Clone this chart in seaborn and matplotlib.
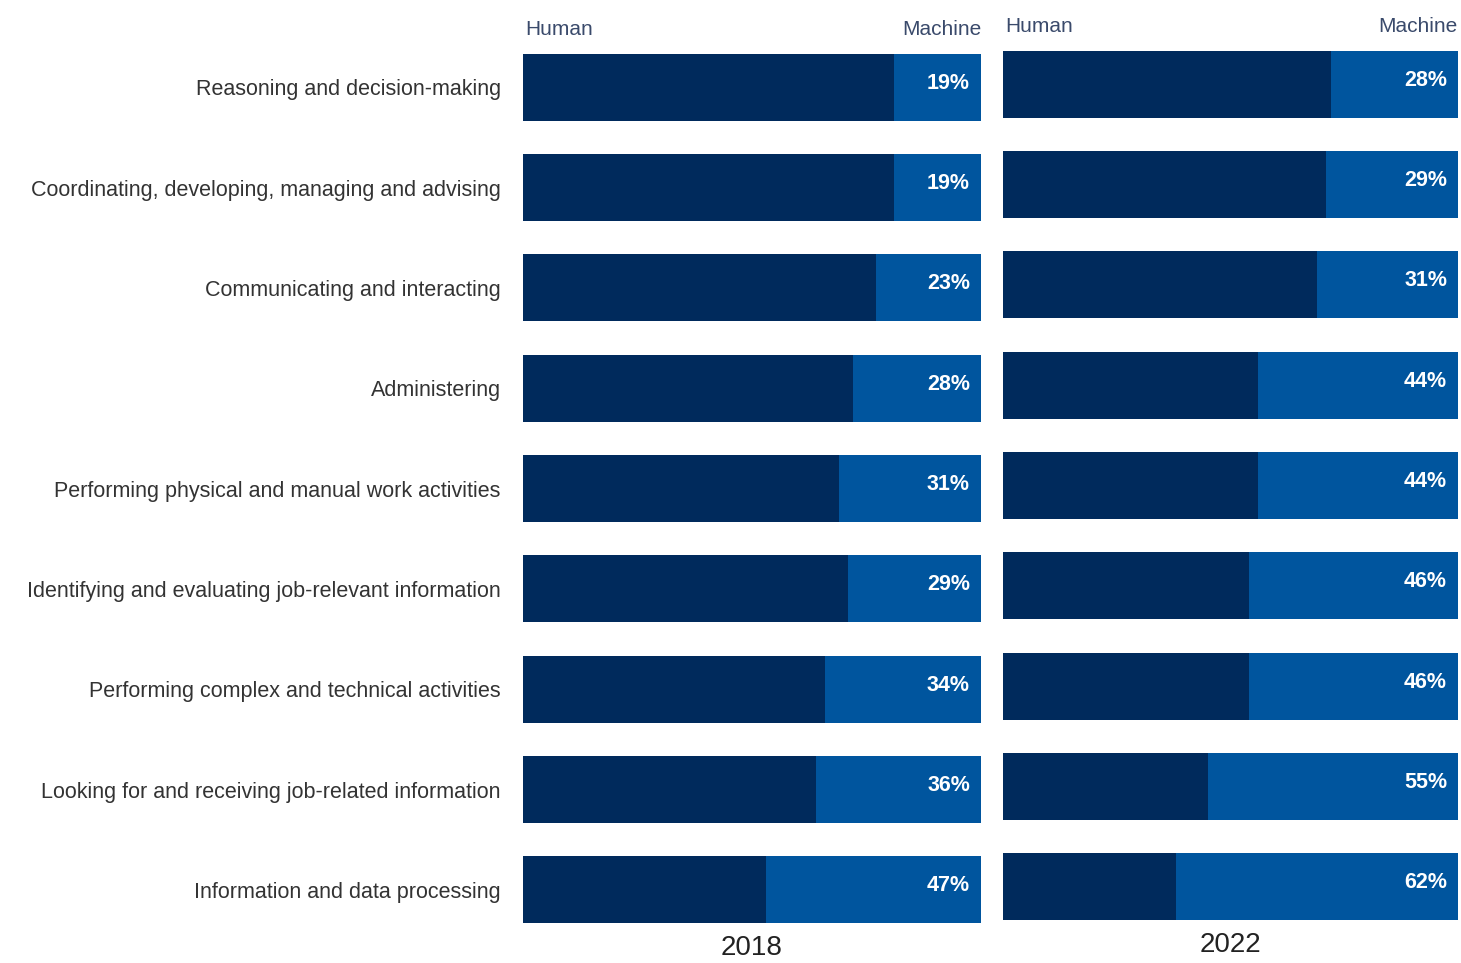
import matplotlib
matplotlib.use("Agg")
import matplotlib.pyplot as plt
import seaborn as sns
import pandas as pd
from matplotlib import font_manager

categories = [
    "Reasoning and decision-making",
    "Coordinating, developing, managing and advising",
    "Communicating and interacting",
    "Administering",
    "Performing physical and manual work activities",
    "Identifying and evaluating job-relevant information",
    "Performing complex and technical activities",
    "Looking for and receiving job-related information",
    "Information and data processing",
]
machine_2018 = [19, 19, 23, 28, 31, 29, 34, 36, 47]
machine_2022 = [28, 29, 31, 44, 44, 46, 46, 55, 62]
years = ["2018", "2022"]

HUMAN = "#002a5c"
MACHINE = "#00559e"

sns.set_theme(style="white")
names = {f.name for f in font_manager.fontManager.ttflist}
fam = "Liberation Sans Narrow" if "Liberation Sans Narrow" in names else "Liberation Sans"
plt.rcParams["font.family"] = [fam, "DejaVu Sans"]

W, H = 1461, 963
fig = plt.figure(figsize=(W / 100, H / 100), dpi=100)

def frac(x0, x1, ytop, ybot):
    return [x0 / W, 1 - ybot / H, (x1 - x0) / W, (ybot - ytop) / H]

ax1 = fig.add_axes(frac(523, 981, 37, 940))
ax2 = fig.add_axes(frac(1003, 1458, 34, 937))

for ax, vals, year, show_labels in [(ax1, machine_2018, years[0], True),
                                     (ax2, machine_2022, years[1], False)]:
    df = pd.DataFrame({"cat": categories, "machine": vals})
    df["total"] = 100
    df["human"] = 100 - df["machine"]
    sns.barplot(data=df, x="total", y="cat", color=MACHINE, width=0.67,
                saturation=1, ax=ax, orient="h", linewidth=0)
    sns.barplot(data=df, x="human", y="cat", color=HUMAN, width=0.67,
                saturation=1, ax=ax, orient="h", linewidth=0)
    ax.set_xlim(0, 100)
    ax.set_ylim(8.5, -0.5)
    for i, v in enumerate(vals):
        ax.text(97.6, i - 0.04, f"{v}%", ha="right", va="center", color="white",
                fontsize=15.5, fontweight="bold")
    ax.text(0.4, -0.5 + 0.02, "Human", ha="left", va="bottom", color="#3a4a6b",
            fontsize=15)
    ax.text(100, -0.5 + 0.02, "Machine", ha="right", va="bottom", color="#3a4a6b",
            fontsize=15)
    ax.text(50, 8.58, year, ha="center", va="center", color="#222222",
            fontsize=20)
    ax.set_xlabel("")
    ax.set_ylabel("")
    ax.set_xticks([])
    for s in ax.spines.values():
        s.set_visible(False)
    if show_labels:
        ax.tick_params(axis="y", length=0, pad=16, labelsize=15.5,
                       labelcolor="#333333")
    else:
        ax.set_yticks([])

fig.savefig("out.png", dpi=100)
